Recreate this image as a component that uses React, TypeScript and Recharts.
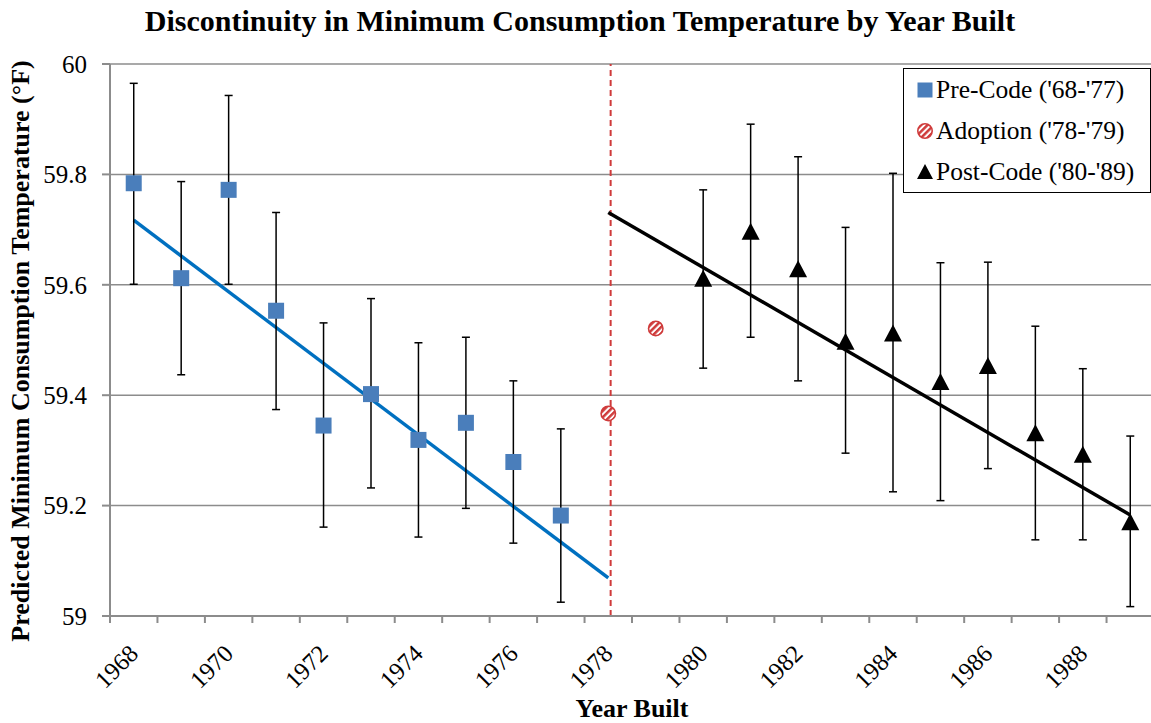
import React from 'react';
import {
  ComposedChart,
  CartesianGrid,
  Customized,
  ErrorBar,
  Legend,
  Line,
  ReferenceLine,
  Scatter,
  XAxis,
  YAxis,
} from 'recharts';

const FONT = 'Liberation Serif, serif';

const WIDTH = 1151;
const HEIGHT = 723;
const PLOT_LEFT = 110;
const PLOT_RIGHT = 1154;

// every year on the axis, labels only on even ones
const years = [
  1968, 1969, 1970, 1971, 1972, 1973, 1974, 1975, 1976, 1977, 1978,
  1979, 1980, 1981, 1982, 1983, 1984, 1985, 1986, 1987, 1988, 1989,
];
const yTicks = [59, 59.2, 59.4, 59.6, 59.8, 60];

const preYears = [1968, 1969, 1970, 1971, 1972, 1973, 1974, 1975, 1976, 1977];
const preValues = [59.784, 59.612, 59.772, 59.553, 59.345, 59.402, 59.319, 59.35, 59.279, 59.182];
const preHigh = [59.965, 59.787, 59.943, 59.731, 59.531, 59.575, 59.495, 59.505, 59.426, 59.339];
const preLow = [59.601, 59.437, 59.601, 59.374, 59.161, 59.232, 59.143, 59.195, 59.132, 59.025];

const adoptYears = [1978, 1979];
const adoptValues = [59.367, 59.521];

const postYears = [1980, 1981, 1982, 1983, 1984, 1985, 1986, 1987, 1988, 1989];
const postValues = [59.611, 59.696, 59.628, 59.497, 59.512, 59.424, 59.453, 59.331, 59.292, 59.17];
const postHigh = [59.772, 59.891, 59.832, 59.704, 59.802, 59.64, 59.641, 59.525, 59.448, 59.326];
const postLow = [59.449, 59.505, 59.426, 59.295, 59.225, 59.209, 59.267, 59.138, 59.138, 59.017];

// fitted lines either side of the code year
const preTrendYears = [1968, 1978];
const preTrendValues = [59.717, 59.069];
const postTrendYears = [1978, 1989];
const postTrendValues = [59.731, 59.183];

const CODE_YEAR = 1978.05;

const BLUE = '#4a7ebb';
const RED = '#cf3b3b';
const GRAY = '#8c8c8c';

const withErr = (ys: number[], vs: number[], hi: number[], lo: number[]) =>
  ys.map((year, i) => ({ year, value: vs[i], err: [vs[i] - lo[i], hi[i] - vs[i]] }));

const preData = withErr(preYears, preValues, preHigh, preLow);
const postData = withErr(postYears, postValues, postHigh, postLow);
const adoptData = adoptYears.map((year, i) => ({ year, value: adoptValues[i] }));
const preTrend = preTrendYears.map((year, i) => ({ year, value: preTrendValues[i] }));
const postTrend = postTrendYears.map((year, i) => ({ year, value: postTrendValues[i] }));

const xBounds = [...years.map((y) => y - 0.5), years[years.length - 1] + 0.5];
const STEP = (PLOT_RIGHT - PLOT_LEFT) / years.length;

function YearTick(props: any) {
  const { x, y, payload } = props;
  const year = payload.value + 0.5;
  if (year % 2 !== 0 || year > years[years.length - 1]) return null;
  const ax = x + STEP / 2 + 6;
  const ay = y + 30;
  return (
    <text
      x={ax}
      y={ay}
      textAnchor="end"
      transform={`rotate(-45, ${ax}, ${ay})`}
      style={{ fontFamily: FONT, fontSize: 24.5 }}
      fill="#000"
    >
      {year}
    </text>
  );
}

function Square(props: any) {
  const { cx, cy } = props;
  return <rect x={cx - 8} y={cy - 8} width={16} height={16} fill={BLUE} />;
}

function Triangle(props: any) {
  const { cx, cy } = props;
  return <path d={`M${cx},${cy - 9} L${cx + 9},${cy + 8} L${cx - 9},${cy + 8} Z`} fill="#000" />;
}

function HatchDefs({ id }: { id: string }) {
  return (
    <defs>
      <pattern id={id} width="4.5" height="4.5" patternUnits="userSpaceOnUse" patternTransform="rotate(45)">
        <rect width="4.5" height="4.5" fill="#fff" />
        <rect width="2.5" height="4.5" fill={RED} />
      </pattern>
    </defs>
  );
}

function Hatched(props: any) {
  const { cx, cy } = props;
  return (
    <g>
      <HatchDefs id="hatch-plot" />
      <circle cx={cx} cy={cy} r={7.2} fill="url(#hatch-plot)" stroke={RED} strokeWidth={1.6} />
    </g>
  );
}

const legendItems = [
  { label: "Pre-Code ('68-'77)", icon: 'square' },
  { label: "Adoption ('78-'79)", icon: 'hatch' },
  { label: "Post-Code ('80-'89)", icon: 'triangle' },
];

function LegendIcon({ kind }: { kind: string }) {
  return (
    <svg width={18} height={18} style={{ marginRight: 2, flexShrink: 0 }}>
      {kind === 'square' && <rect x={1.5} y={1.5} width={15} height={15} fill={BLUE} />}
      {kind === 'hatch' && (
        <>
          <HatchDefs id="hatch-legend" />
          <circle cx={9} cy={9} r={7.2} fill="url(#hatch-legend)" stroke={RED} strokeWidth={1.6} />
        </>
      )}
      {kind === 'triangle' && <path d="M9,1 L17,16 L1,16 Z" fill="#000" />}
    </svg>
  );
}

function renderLegend() {
  return (
    <div
      style={{
        boxSizing: 'border-box',
        width: 248,
        height: 125,
        border: '1.5px solid #000',
        background: '#fff',
        fontFamily: FONT,
        fontSize: 25.5,
        color: '#000',
        paddingLeft: 12,
      }}
    >
      {legendItems.map((it) => (
        <div key={it.label} style={{ display: 'flex', alignItems: 'center', height: 41, whiteSpace: 'nowrap' }}>
          <LegendIcon kind={it.icon} />
          <span>{it.label}</span>
        </div>
      ))}
    </div>
  );
}

function Titles() {
  return (
    <g style={{ fontFamily: FONT, fontWeight: 'bold' }} fill="#000">
      <text x={580} y={31} textAnchor="middle" style={{ fontSize: 30 }}>
        Discontinuity in Minimum Consumption Temperature by Year Built
      </text>
      <text x={632} y={717} textAnchor="middle" style={{ fontSize: 26 }}>
        Year Built
      </text>
      <text transform="translate(29, 351) rotate(-90)" textAnchor="middle" style={{ fontSize: 26 }}>
        Predicted Minimum Consumption Temperature (°F)
      </text>
    </g>
  );
}

export default function App() {
  return (
    <div style={{ position: 'fixed', left: 0, top: 0, width: WIDTH, height: HEIGHT, background: '#fff', fontFamily: FONT }}>
      <ComposedChart
        width={WIDTH}
        height={HEIGHT}
        margin={{ top: 64, right: WIDTH - PLOT_RIGHT, bottom: 0, left: 0 }}
        style={{ fontFamily: FONT }}
      >
        <CartesianGrid vertical={false} stroke={GRAY} strokeWidth={1.5} />
        <XAxis
          type="number"
          dataKey="year"
          domain={[xBounds[0], xBounds[xBounds.length - 1]]}
          ticks={xBounds}
          interval={0}
          tick={<YearTick />}
          tickSize={7}
          height={107}
          stroke={GRAY}
          axisLine={{ stroke: GRAY, strokeWidth: 2 }}
          tickLine={{ stroke: GRAY, strokeWidth: 2 }}
          allowDataOverflow
        />
        <YAxis
          type="number"
          domain={[59, 60]}
          ticks={yTicks}
          interval={0}
          width={PLOT_LEFT}
          tickSize={8}
          tickMargin={15}
          tickFormatter={(v: number) => String(Number(v.toFixed(1)))}
          tick={{ fontFamily: FONT, fontSize: 25, fill: '#000', style: { fontFamily: FONT } }}
          axisLine={{ stroke: GRAY, strokeWidth: 2 }}
          tickLine={{ stroke: GRAY, strokeWidth: 2 }}
        />
        <ReferenceLine x={CODE_YEAR} stroke={RED} strokeWidth={2} strokeDasharray="6 4" />
        <Line
          data={preTrend}
          dataKey="value"
          type="linear"
          stroke="#0070c0"
          strokeWidth={3.5}
          dot={false}
          activeDot={false}
          legendType="none"
          isAnimationActive={false}
        />
        <Line
          data={postTrend}
          dataKey="value"
          type="linear"
          stroke="#000"
          strokeWidth={3.5}
          dot={false}
          activeDot={false}
          legendType="none"
          isAnimationActive={false}
        />
        <Scatter data={preData} dataKey="value" name="Pre-Code ('68-'77)" shape={<Square />} isAnimationActive={false}>
          <ErrorBar dataKey="err" direction="y" width={4} stroke="#000" strokeWidth={1.5} />
        </Scatter>
        <Scatter data={adoptData} dataKey="value" name="Adoption ('78-'79)" shape={<Hatched />} isAnimationActive={false} />
        <Scatter data={postData} dataKey="value" name="Post-Code ('80-'89)" shape={<Triangle />} isAnimationActive={false}>
          <ErrorBar dataKey="err" direction="y" width={4} stroke="#000" strokeWidth={1.5} />
        </Scatter>
        <Legend
          layout="vertical"
          align="center"
          verticalAlign="middle"
          wrapperStyle={{ top: 68, left: 903, width: 248 }}
          content={renderLegend}
        />
        <Customized component={Titles} />
      </ComposedChart>
    </div>
  );
}
